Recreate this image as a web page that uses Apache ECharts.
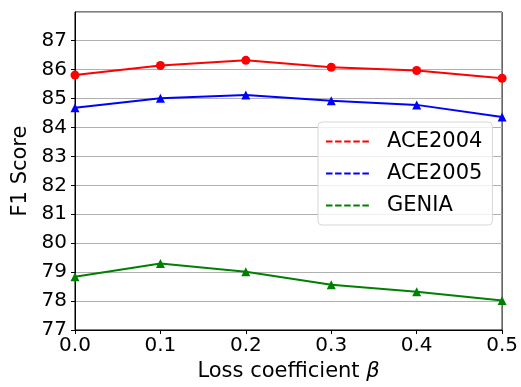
<!DOCTYPE html>
<html>
<head>
<meta charset="utf-8">
<script src="https://cdn.jsdelivr.net/npm/echarts@6/dist/echarts.min.js"></script>
<style>
  html, body { margin: 0; padding: 0; background: #fff; }
  #chart { width: 521px; height: 387px; }
</style>
</head>
<body>
<div id="chart"></div>
<script>
// loss coefficient beta on the x axis
const betas = [0.0, 0.1, 0.2, 0.3, 0.4, 0.5]
// F1 scores
const ace2004 = [85.81, 86.14, 86.32, 86.08, 85.97, 85.70]
const ace2005 = [84.68, 85.01, 85.12, 84.92, 84.78, 84.36]
const genia = [78.84, 79.30, 79.01, 78.56, 78.32, 78.02]
const seriesNames = ['ACE2004', 'ACE2005', 'GENIA']

const font = 'DejaVu Sans'
// dashed legend line (plus an invisible point to push the text right)
const dashIcon = 'path://M0,0h6.5v2h-6.5z M9.1,0h6.5v2h-6.5z M18.2,0h6.5v2h-6.5z M27.3,0h6.5v2h-6.5z M36.4,0h6.5v2h-6.5z M56,0h0.01v2h-0.01z'

function pairs(ys) {
  return betas.map((b, i) => [b, ys[i]])
}

const myChart = echarts.init(document.getElementById('chart'))
myChart.setOption({
  animation: false,
  textStyle: { fontFamily: font },
  grid: {
    left: 75,
    right: 17,
    top: 12,
    bottom: 55,
    show: true,
    borderColor: '#000',
    borderWidth: 1
  },
  legend: {
    data: seriesNames,
    orient: 'vertical',
    left: 318,
    top: 122,
    icon: dashIcon,
    itemWidth: 56,
    itemHeight: 2,
    itemGap: 11,
    padding: [9, 10, 9, 8],
    backgroundColor: 'rgba(255,255,255,0.8)',
    borderColor: '#d6d6d6',
    borderWidth: 1,
    borderRadius: 4,
    textStyle: { fontSize: 21, color: '#000', fontFamily: font }
  },
  xAxis: {
    type: 'value',
    min: 0,
    max: 0.5,
    interval: 0.1,
    name: '{n|Loss coefficient }{b|β}',
    nameLocation: 'middle',
    nameGap: 31,
    nameTextStyle: {
      fontSize: 21,
      color: '#000',
      fontFamily: font,
      rich: {
        n: { fontSize: 21, color: '#000', fontFamily: font },
        b: { fontSize: 21, color: '#000', fontFamily: font, fontStyle: 'italic' }
      }
    },
    axisLine: { show: true, lineStyle: { color: '#000', width: 1 } },
    axisTick: { show: true, inside: false, length: 4, lineStyle: { color: '#000' } },
    axisLabel: {
      fontSize: 20,
      color: '#000',
      margin: 6,
      formatter: v => v.toFixed(1)
    },
    splitLine: { show: false }
  },
  yAxis: {
    type: 'value',
    min: 77,
    max: 87.99,
    interval: 1,
    name: 'F1 Score',
    nameLocation: 'middle',
    nameGap: 43,
    nameTextStyle: { fontSize: 21, color: '#000', fontFamily: font },
    axisLine: { show: true, lineStyle: { color: '#000', width: 1 } },
    axisTick: { show: true, inside: false, length: 4, lineStyle: { color: '#000' } },
    axisLabel: {
      fontSize: 20,
      color: '#000',
      margin: 8,
      showMaxLabel: false
    },
    splitLine: { show: true, lineStyle: { color: '#b0b0b0', width: 1 } }
  },
  series: [
    {
      name: seriesNames[0],
      type: 'line',
      data: pairs(ace2004),
      color: '#ff0000',
      symbol: 'circle',
      symbolSize: 9,
      lineStyle: { width: 2 },
      clip: true
    },
    {
      name: seriesNames[1],
      type: 'line',
      data: pairs(ace2005),
      color: '#0000ff',
      symbol: 'triangle',
      symbolSize: 9,
      lineStyle: { width: 2 },
      clip: true
    },
    {
      name: seriesNames[2],
      type: 'line',
      data: pairs(genia),
      color: '#008000',
      symbol: 'triangle',
      symbolSize: 9,
      lineStyle: { width: 2 },
      clip: true
    }
  ]
})
</script>
</body>
</html>
